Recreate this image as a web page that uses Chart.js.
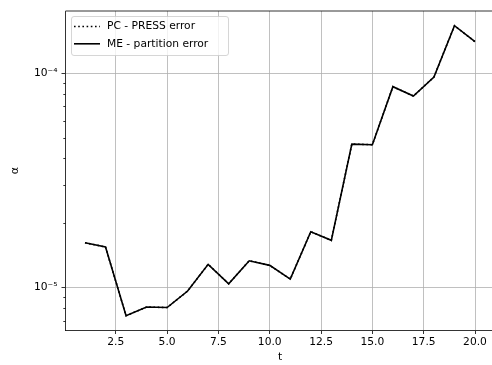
<!DOCTYPE html>
<html>
<head>
<meta charset="utf-8">
<script src="https://cdn.jsdelivr.net/npm/chart.js@4/dist/chart.umd.min.js"></script>
<style>
  html, body { margin: 0; padding: 0; background: #fff; overflow: hidden; }
  #caixa { width: 492px; height: 365px; overflow: hidden; }
  canvas { display: block; }
</style>
</head>
<body>
<div id="caixa"><canvas id="grafico" width="520" height="365"></canvas></div>
<script>
// dados do grafico
var tempos = [1, 2, 3, 4, 5, 6, 7, 8, 9, 10, 11, 12, 13, 14, 15, 16, 17, 18, 19, 20];
var erroPC = [1.616e-5, 1.543e-5, 7.37e-6, 8.09e-6, 8.05e-6, 9.61e-6, 1.281e-5, 1.039e-5, 1.331e-5, 1.267e-5,
              1.093e-5, 1.819e-5, 1.658e-5, 4.67e-5, 4.64e-5, 8.66e-5, 7.83e-5, 9.61e-5, 1.669e-4, 1.405e-4];
var erroME = [1.616e-5, 1.543e-5, 7.37e-6, 8.09e-6, 8.05e-6, 9.61e-6, 1.281e-5, 1.039e-5, 1.331e-5, 1.267e-5,
              1.093e-5, 1.819e-5, 1.658e-5, 4.67e-5, 4.64e-5, 8.66e-5, 7.83e-5, 9.61e-5, 1.669e-4, 1.405e-4];
var ticksX = [2.5, 5.0, 7.5, 10.0, 12.5, 15.0, 17.5, 20.0];
var ticksY = [7e-6, 8e-6, 9e-6, 1e-5, 2e-5, 3e-5, 4e-5, 5e-5, 6e-5, 7e-5, 8e-5, 9e-5, 1e-4];
var rotulosY = {'1e-5': '10\u207B\u2075', '1e-4': '10\u207B\u2074'};

var fonte = 'DejaVu Sans';

function ehMaior(v) {
    return rotulosY[v.toExponential(0)] !== undefined;
}

function pontos(ys) {
    return tempos.map(function(t, i) { return {x: t, y: ys[i]}; });
}

// moldura de cima, ticks menores e legenda
var extras = {
    id: 'extras',
    afterDraw: function(chart) {
        var ctx = chart.ctx;
        var a = chart.chartArea;
        var y = chart.scales.y;
        ctx.save();
        ctx.strokeStyle = '#000';
        ctx.lineWidth = 0.8;
        ctx.beginPath();
        y.ticks.forEach(function(t) {
            if (!ehMaior(t.value)) {
                var py = Math.round(y.getPixelForValue(t.value)) + 0.5;
                ctx.moveTo(a.left - 2.2, py);
                ctx.lineTo(a.left, py);
            }
        });
        ctx.moveTo(a.left, a.top);
        ctx.lineTo(a.right, a.top);
        ctx.stroke();

        // legenda
        ctx.fillStyle = 'rgba(255,255,255,0.8)';
        ctx.strokeStyle = '#cccccc';
        ctx.lineWidth = 0.8;
        ctx.beginPath();
        ctx.roundRect(71.5, 16.5, 157, 39, 2.5);
        ctx.fill();
        ctx.stroke();
        ctx.font = '10.7px "' + fonte + '"';
        ctx.textBaseline = 'middle';
        chart.data.datasets.forEach(function(ds, i) {
            var ly = 26.5 + i * 17.3;
            ctx.strokeStyle = ds.borderColor;
            ctx.lineWidth = ds.borderWidth;
            ctx.setLineDash(ds.borderDash || []);
            ctx.beginPath();
            ctx.moveTo(74, ly);
            ctx.lineTo(100, ly);
            ctx.stroke();
            ctx.setLineDash([]);
            ctx.fillStyle = '#000';
            ctx.fillText(ds.label, 107, ly);
        });
        ctx.restore();
    }
};

var contexto = document.getElementById('grafico').getContext('2d');
var grafico = new Chart(contexto, {
    type: 'line',
    data: {
        datasets: [{
            label: 'PC - PRESS error',
            data: pontos(erroPC),
            borderColor: '#000',
            borderWidth: 1.6,
            borderDash: [1.6, 2.6],
            pointRadius: 0,
            tension: 0,
            fill: false,
            order: 1
        }, {
            label: 'ME - partition error',
            data: pontos(erroME),
            borderColor: '#000',
            borderWidth: 1.6,
            pointRadius: 0,
            tension: 0,
            fill: false,
            order: 0
        }]
    },
    options: {
        responsive: false,
        animation: false,
        devicePixelRatio: 1,
        layout: { padding: { left: 0, right: 25.5, top: 11, bottom: 0 } },
        plugins: {
            legend: { display: false },
            tooltip: { enabled: false }
        },
        scales: {
            x: {
                type: 'linear',
                min: 0.05,
                max: 20.95,
                afterBuildTicks: function(scale) {
                    scale.ticks = ticksX.map(function(v) { return {value: v}; });
                },
                afterFit: function(scale) { scale.height = 35; },
                ticks: {
                    color: '#000',
                    font: { family: fonte, size: 10.7 },
                    padding: 2,
                    maxRotation: 0,
                    autoSkip: false,
                    callback: function(v) { return Number(v).toFixed(1); }
                },
                grid: {
                    color: '#b0b0b0',
                    lineWidth: 0.8,
                    tickColor: '#000',
                    tickLength: 4
                },
                border: { color: '#000', width: 0.8 },
                title: {
                    display: true,
                    text: 't',
                    color: '#000',
                    font: { family: fonte, size: 10.7 },
                    padding: { top: 0, bottom: 1 }
                }
            },
            y: {
                type: 'logarithmic',
                min: 6.32e-6,
                max: 1.955e-4,
                afterBuildTicks: function(scale) {
                    scale.ticks = ticksY.map(function(v) { return {value: v}; });
                },
                afterFit: function(scale) { scale.width = 65.5; },
                ticks: {
                    color: '#000',
                    font: { family: fonte, size: 10.7 },
                    padding: 4,
                    autoSkip: false,
                    callback: function(v) {
                        return rotulosY[Number(v).toExponential(0)] || '';
                    }
                },
                grid: {
                    color: function(c) { return ehMaior(c.tick.value) ? '#b0b0b0' : 'rgba(0,0,0,0)'; },
                    tickColor: function(c) { return ehMaior(c.tick.value) ? '#000' : 'rgba(0,0,0,0)'; },
                    lineWidth: 0.8,
                    tickLength: 4
                },
                border: { color: '#000', width: 0.8 },
                title: {
                    display: true,
                    text: '\u03B1',
                    color: '#000',
                    font: { family: fonte, size: 11 },
                    padding: { top: 9, bottom: 0 }
                }
            }
        }
    },
    plugins: [extras]
});
</script>
</body>
</html>
